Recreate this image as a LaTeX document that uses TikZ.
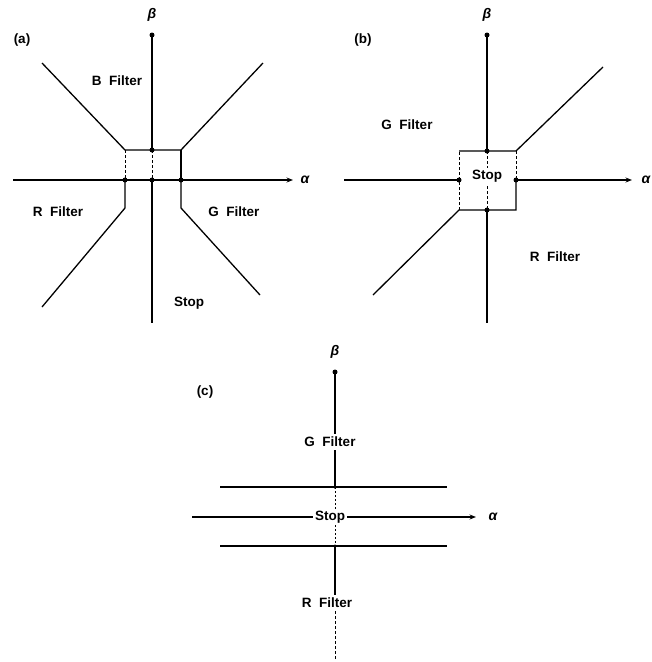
\documentclass[tikz,border=0pt]{standalone}
\usepackage{fontspec}
\setmainfont{Liberation Sans}
\usetikzlibrary{arrows.meta}
\begin{document}
\begin{tikzpicture}[x=1pt,y=-1pt,
  lbl/.style={font=\bfseries\fontsize{13.5}{15}\selectfont, inner sep=0pt},
  glbl/.style={font=\bfseries\itshape\fontsize{14}{16}\selectfont, inner sep=0pt},
  stoplbl/.style={lbl, fill=white, inner sep=1.5pt},
  ln/.style={line width=1.3pt},
  dsh/.style={line width=0.9pt, dash pattern=on 3pt off 2pt},
  dtt/.style={line width=0.9pt, dash pattern=on 1.5pt off 2.5pt},
  arr/.style={ln, -{Stealth[length=6.5pt,width=5pt]}},
  dot/.style={circle, fill=black, draw=none, inner sep=0pt, minimum size=5pt}]
\useasboundingbox (0,0) rectangle (652,662);

% ---------------- panel (a) ----------------
\coordinate (abtop) at (152,35);
\coordinate (abbot) at (152,323);
\coordinate (aaL) at (13,180);
\coordinate (aaR) at (293,180);
\coordinate (aTL) at (125,150);
\coordinate (aTC) at (152,150);
\coordinate (aTR) at (181,150);
\coordinate (aML) at (125,180);
\coordinate (aMC) at (152,180);
\coordinate (aMR) at (181,180);
\coordinate (aBL) at (125,208);
\coordinate (aBR) at (181,208);
\coordinate (aUL) at (42,63);
\coordinate (aUR) at (263,63);
\coordinate (aLL) at (42,307);
\coordinate (aLR) at (260,295);

\draw[ln] (abtop) -- (aTC);
\draw[dsh] (aTC) -- (aMC);
\draw[ln] (aMC) -- (abbot);
\draw[arr] (aaL) -- (aaR);
\draw[ln] (aUL) -- (aTL) -- (aTR) -- (aUR);
\draw[dsh] (aTL) -- (aML);
\draw[ln] (aTR) -- (aMR);
\draw[ln] (aML) -- (aBL) -- (aLL);
\draw[ln] (aMR) -- (aBR) -- (aLR);
\node[dot] (adot1) at (abtop) {};
\node[dot] (adot2) at (aTC) {};
\node[dot] (adot3) at (aML) {};
\node[dot] (adot4) at (aMC) {};
\node[dot] (adot5) at (aMR) {};

\node[lbl] (alab) at (22,40) {(a)};
\node[glbl] (abeta) at (152,15) {β};
\node[glbl] (aalpha) at (305,180) {α};
\node[lbl] (aB) at (117,81) {B\ \ Filter};
\node[lbl] (aR) at (58,212) {R\ \ Filter};
\node[lbl] (aG) at (234,212) {G\ \ Filter};
\node[lbl] (aS) at (189,303) {Stop};

% ---------------- panel (b) ----------------
\coordinate (bbtop) at (487,35);
\coordinate (bbbot) at (487,323);
\coordinate (baL) at (344,180);
\coordinate (baR) at (632,180);
\coordinate (bTL) at (459,151);
\coordinate (bTC) at (487,151);
\coordinate (bTR) at (516,151);
\coordinate (bML) at (459,180);
\coordinate (bMR) at (516,180);
\coordinate (bBL) at (459,210);
\coordinate (bBC) at (487,210);
\coordinate (bBR) at (516,210);
\coordinate (bUR) at (603,67);
\coordinate (bLL) at (373,295);

\draw[ln] (bbtop) -- (bTC);
\draw[dsh] (bTC) -- (bBC);
\draw[ln] (bBC) -- (bbbot);
\draw[ln] (baL) -- (bML);
\draw[arr] (bMR) -- (baR);
\draw[ln] (bTL) -- (bTR) -- (bUR);
\draw[dsh] (bTR) -- (bMR);
\draw[ln] (bMR) -- (bBR) -- (bBL) -- (bLL);
\draw[dsh] (bBL) -- (bTL);
\node[stoplbl] (bS) at (487,176) {Stop};
\node[dot] (bdot1) at (bbtop) {};
\node[dot] (bdot2) at (bTC) {};
\node[dot] (bdot3) at (bML) {};
\node[dot] (bdot4) at (bMR) {};
\node[dot] (bdot5) at (bBC) {};

\node[lbl] (blab) at (363,40) {(b)};
\node[glbl] (bbeta) at (487,15) {β};
\node[glbl] (balpha) at (646,180) {α};
\node[lbl] (bG) at (407,125) {G\ \ Filter};
\node[lbl] (bR) at (555,257) {R\ \ Filter};

% ---------------- panel (c) ----------------
\coordinate (cbtop) at (335,372);
\coordinate (cbbot) at (335,660);
\coordinate (caL) at (192,517);
\coordinate (caR) at (476,517);
\coordinate (cUL) at (220,487);
\coordinate (cUC) at (335,487);
\coordinate (cUR) at (447,487);
\coordinate (cLL) at (220,546);
\coordinate (cLC) at (335,546);
\coordinate (cLR) at (447,546);

\node[lbl] (clab) at (205,392) {(c)};
\node[glbl] (cbeta) at (335,352) {β};
\node[glbl] (calpha) at (493,517) {α};
\node[lbl, inner sep=3pt] (cG) at (330,442) {G\ \ Filter};
\node[lbl, inner sep=3pt] (cR) at (327,603) {R\ \ Filter};
\node[lbl, inner sep=2pt] (cS) at (330,517) {Stop};

\draw[ln] (cbtop) -- (cbtop |- cG.north);
\draw[ln] (cbtop |- cG.south) -- (cUC);
\draw[dtt] (cUC) -- (cbtop |- cS.north);
\draw[dtt] (cbtop |- cS.south) -- (cLC);
\draw[ln] (cLC) -- (cbtop |- cR.north);
\draw[dsh] (cbtop |- cR.south) -- (cbbot);
\draw[ln] (cUL) -- (cUR);
\draw[ln] (cLL) -- (cLR);
\draw[ln] (caL) -- (cS.west);
\draw[arr] (cS.east) -- (caR);
\node[dot] (cdot1) at (cbtop) {};
\node[dot, minimum size=3.5pt] (cdot2) at (cUC) {};
\node[dot, minimum size=3.5pt] (cdot3) at (cLC) {};
\end{tikzpicture}
\end{document}
